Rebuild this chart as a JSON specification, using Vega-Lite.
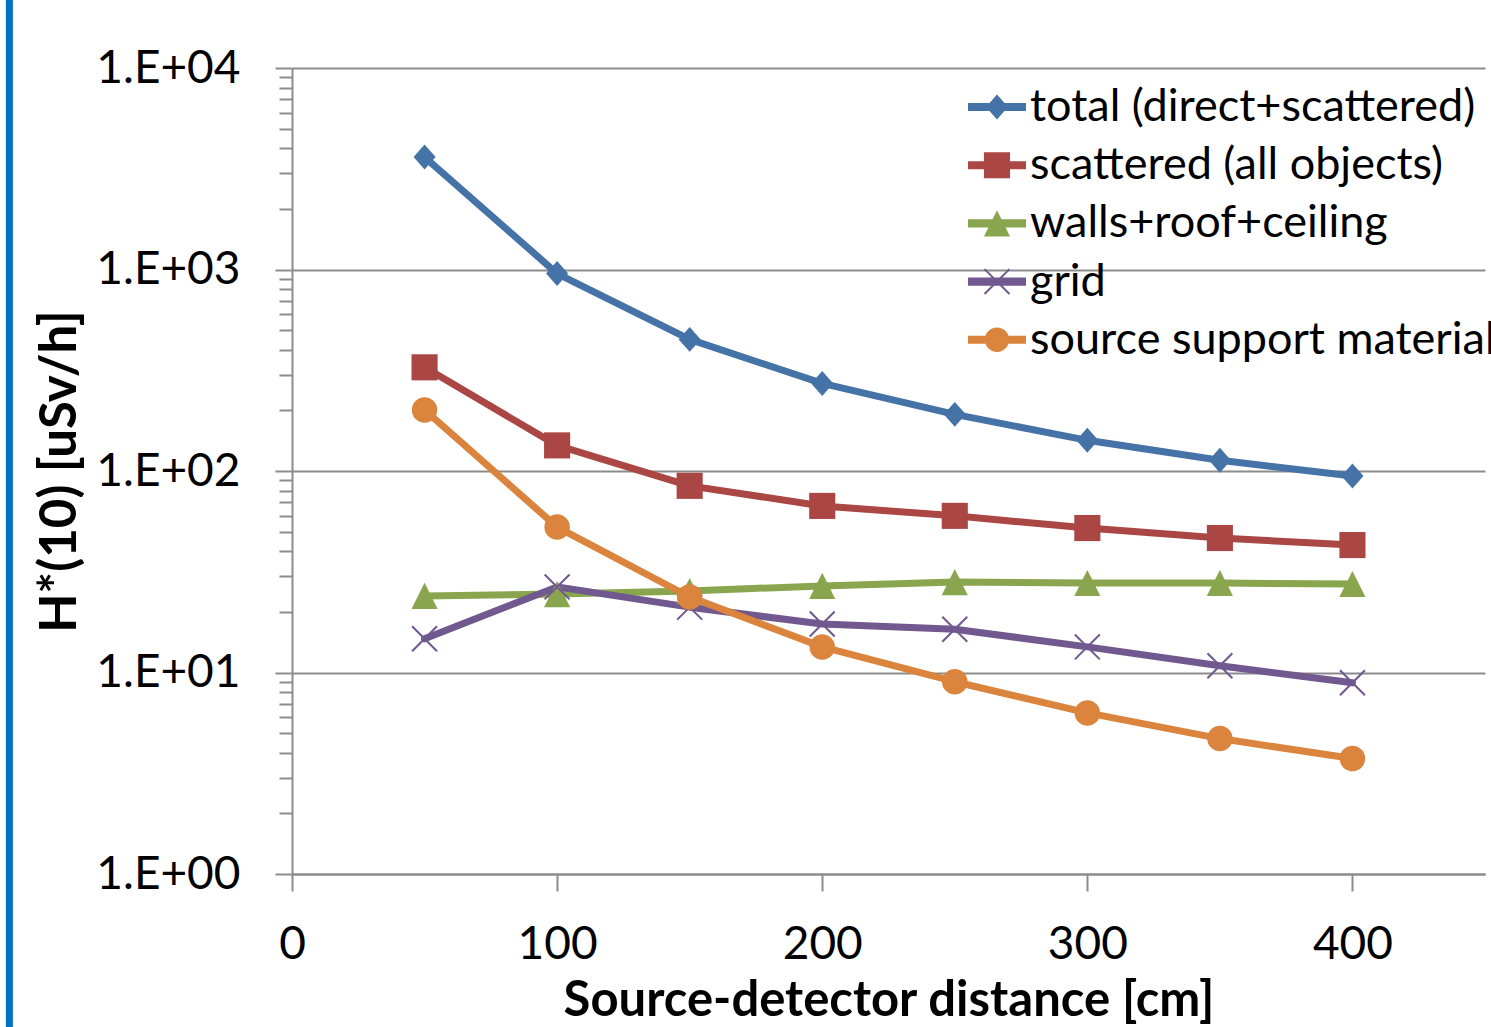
{
  "$schema": "https://vega.github.io/schema/vega-lite/v6.json",
  "width": 1193,
  "height": 806,
  "autosize": {"type": "none"},
  "padding": {"left": 292, "top": 68, "right": 6, "bottom": 153},
  "background": "white",
  "config": {
    "font": "Lato",
    "view": {"stroke": null},
    "legend": {
      "orient": "none",
      "legendX": 676,
      "legendY": 10,
      "title": null,
      "labelFontSize": 45,
      "labelColor": "black",
      "labelLimit": 1000,
      "labelOffset": 4,
      "symbolSize": 3364,
      "rowPadding": 6.2,
      "symbolStrokeWidth": 0,
      "symbolOpacity": 1,
      "padding": 0
    }
  },
  "data": {
    "values": [
      {"d": 50, "s": "total (direct+scattered)", "v": 3615},
      {"d": 100, "s": "total (direct+scattered)", "v": 955},
      {"d": 150, "s": "total (direct+scattered)", "v": 450},
      {"d": 200, "s": "total (direct+scattered)", "v": 272},
      {"d": 250, "s": "total (direct+scattered)", "v": 191},
      {"d": 300, "s": "total (direct+scattered)", "v": 142},
      {"d": 350, "s": "total (direct+scattered)", "v": 113},
      {"d": 400, "s": "total (direct+scattered)", "v": 94.5},
      {"d": 50, "s": "scattered (all objects)", "v": 327},
      {"d": 100, "s": "scattered (all objects)", "v": 134},
      {"d": 150, "s": "scattered (all objects)", "v": 84.4},
      {"d": 200, "s": "scattered (all objects)", "v": 67.1},
      {"d": 250, "s": "scattered (all objects)", "v": 59.9},
      {"d": 300, "s": "scattered (all objects)", "v": 52.1},
      {"d": 350, "s": "scattered (all objects)", "v": 46.5},
      {"d": 400, "s": "scattered (all objects)", "v": 42.9},
      {"d": 50, "s": "walls+roof+ceiling", "v": 24.0},
      {"d": 100, "s": "walls+roof+ceiling", "v": 24.5},
      {"d": 150, "s": "walls+roof+ceiling", "v": 25.4},
      {"d": 200, "s": "walls+roof+ceiling", "v": 26.9},
      {"d": 250, "s": "walls+roof+ceiling", "v": 28.1},
      {"d": 300, "s": "walls+roof+ceiling", "v": 27.8},
      {"d": 350, "s": "walls+roof+ceiling", "v": 27.8},
      {"d": 400, "s": "walls+roof+ceiling", "v": 27.5},
      {"d": 50, "s": "grid", "v": 14.7},
      {"d": 100, "s": "grid", "v": 26.6},
      {"d": 150, "s": "grid", "v": 21.1},
      {"d": 200, "s": "grid", "v": 17.4},
      {"d": 250, "s": "grid", "v": 16.4},
      {"d": 300, "s": "grid", "v": 13.4},
      {"d": 350, "s": "grid", "v": 10.8},
      {"d": 400, "s": "grid", "v": 8.9},
      {"d": 50, "s": "source support material", "v": 201},
      {"d": 100, "s": "source support material", "v": 52.7},
      {"d": 150, "s": "source support material", "v": 23.7},
      {"d": 200, "s": "source support material", "v": 13.4},
      {"d": 250, "s": "source support material", "v": 9.0},
      {"d": 300, "s": "source support material", "v": 6.3},
      {"d": 350, "s": "source support material", "v": 4.7},
      {"d": 400, "s": "source support material", "v": 3.74}
    ]
  },
  "encoding": {
    "x": {
      "field": "d",
      "type": "quantitative",
      "scale": {"domain": [0, 450], "nice": false, "zero": false},
      "axis": {
        "values": [0, 100, 200, 300, 400],
        "grid": false,
        "tickSize": 17,
        "tickWidth": 2,
        "tickColor": "#8c8c8c",
        "domainColor": "#8c8c8c",
        "domainWidth": 2,
        "labelFontSize": 46,
        "labelColor": "black",
        "labelPadding": 31,
        "labelFlush": false,
        "labelOverlap": false,
        "title": "Source-detector distance [cm]",
        "titleFontSize": 49,
        "titleFontWeight": "bold",
        "titleColor": "black",
        "titleY": 126,
        "titleBaseline": "middle",
        "encode": {"ticks": {"update": {"y": {"value": -16}}}}
      }
    },
    "y": {
      "field": "v",
      "type": "quantitative",
      "scale": {"type": "log", "domain": [1, 10000], "nice": false},
      "axis": {
        "values": [1, 2, 3, 4, 5, 6, 7, 8, 9, 10, 20, 30, 40, 50, 60, 70, 80, 90, 100, 200, 300, 400, 500, 600, 700, 800, 900, 1000, 2000, 3000, 4000, 5000, 6000, 7000, 8000, 9000, 10000],
        "labelExpr": "abs(log(datum.value)/LN10 - round(log(datum.value)/LN10)) < 0.001 ? '1.E+0' + round(log(datum.value)/LN10) : ''",
        "tickSize": {"condition": {"test": "abs(log(datum.value)/LN10 - round(log(datum.value)/LN10)) < 0.001", "value": 17}, "value": 13},
        "tickWidth": 2,
        "tickColor": "#8c8c8c",
        "grid": true,
        "gridColor": "#8c8c8c",
        "gridWidth": 2,
        "gridOpacity": {"condition": {"test": "abs(log(datum.value)/LN10 - round(log(datum.value)/LN10)) < 0.001", "value": 1}, "value": 0},
        "domainColor": "#8c8c8c",
        "domainWidth": 2,
        "labelFontSize": 46,
        "labelColor": "black",
        "labelPadding": 35,
        "labelOverlap": false,
        "labelFlush": false,
        "labelBound": false,
        "title": "H*(10) [uSv/h]",
        "titleFontSize": 51,
        "titleFontWeight": "bold",
        "titleColor": "black",
        "titleX": -232,
        "titleY": 403,
        "titleAngle": -90,
        "titleAlign": "center",
        "titleBaseline": "middle"
      }
    },
    "color": {
      "field": "s",
      "type": "nominal",
      "scale": {
        "domain": ["total (direct+scattered)", "scattered (all objects)", "walls+roof+ceiling", "grid", "source support material"],
        "range": ["#4572A7", "#AA4643", "#89A54E", "#71588F", "#DB843D"]
      }
    }
  },
  "layer": [
    {
      "data": {"values": [{"d": -106.6, "v": 0.17, "v2": 22000}]},
      "mark": {"type": "rule", "color": "#0070C0", "strokeWidth": 7},
      "encoding": {"y2": {"field": "v2"}, "color": {"value": "#0070C0"}}
    },
    {
      "mark": {"type": "point", "filled": true, "opacity": 0, "size": 3364, "strokeWidth": 0},
      "encoding": {
        "shape": {
          "field": "s",
          "type": "nominal",
          "scale": {
            "domain": ["total (direct+scattered)", "scattered (all objects)", "walls+roof+ceiling", "grid", "source support material"],
            "range": [
              "M-1,-0.14H1V0.14H-1Z M0,-0.43L0.38,0L0,0.43L-0.38,0Z",
              "M-1,-0.14H1V0.14H-1Z M-0.45,-0.45H0.45V0.45H-0.45Z",
              "M-1,-0.14H1V0.14H-1Z M0,-0.45L0.45,0.45L-0.45,0.45Z",
              "M-1,-0.14H1V0.14H-1Z M-0.455,-0.405L-0.405,-0.455L0.455,0.405L0.405,0.455Z M0.405,-0.455L0.455,-0.405L-0.405,0.455L-0.455,0.405Z",
              "M-1,-0.14H1V0.14H-1Z M-0.42,0A0.42,0.42 0 1,1 0.42,0A0.42,0.42 0 1,1 -0.42,0Z"
            ]
          }
        }
      }
    },
    {
      "mark": {"type": "line", "strokeWidth": 7, "strokeCap": "round", "strokeJoin": "round"},
      "encoding": {"order": {"field": "d"}}
    },
    {
      "transform": [{"filter": "datum.s === 'total (direct+scattered)'"}],
      "mark": {"type": "point", "filled": true, "opacity": 1, "size": 3364, "strokeWidth": 0, "shape": "M0,-0.43L0.38,0L0,0.43L-0.38,0Z"}
    },
    {
      "transform": [{"filter": "datum.s === 'scattered (all objects)'"}],
      "mark": {"type": "point", "filled": true, "opacity": 1, "size": 3364, "strokeWidth": 0, "shape": "M-0.45,-0.45H0.45V0.45H-0.45Z"}
    },
    {
      "transform": [{"filter": "datum.s === 'walls+roof+ceiling'"}],
      "mark": {"type": "point", "filled": true, "opacity": 1, "size": 3364, "strokeWidth": 0, "shape": "M0,-0.45L0.45,0.45L-0.45,0.45Z"}
    },
    {
      "transform": [{"filter": "datum.s === 'grid'"}],
      "mark": {"type": "point", "filled": true, "opacity": 1, "size": 3364, "strokeWidth": 0, "shape": "M-0.455,-0.405L-0.405,-0.455L0.455,0.405L0.405,0.455Z M0.405,-0.455L0.455,-0.405L-0.405,0.455L-0.455,0.405Z"}
    },
    {
      "transform": [{"filter": "datum.s === 'source support material'"}],
      "mark": {"type": "point", "filled": true, "opacity": 1, "size": 3364, "strokeWidth": 0, "shape": "M-0.44,0A0.44,0.44 0 1,1 0.44,0A0.44,0.44 0 1,1 -0.44,0Z"}
    }
  ]
}
